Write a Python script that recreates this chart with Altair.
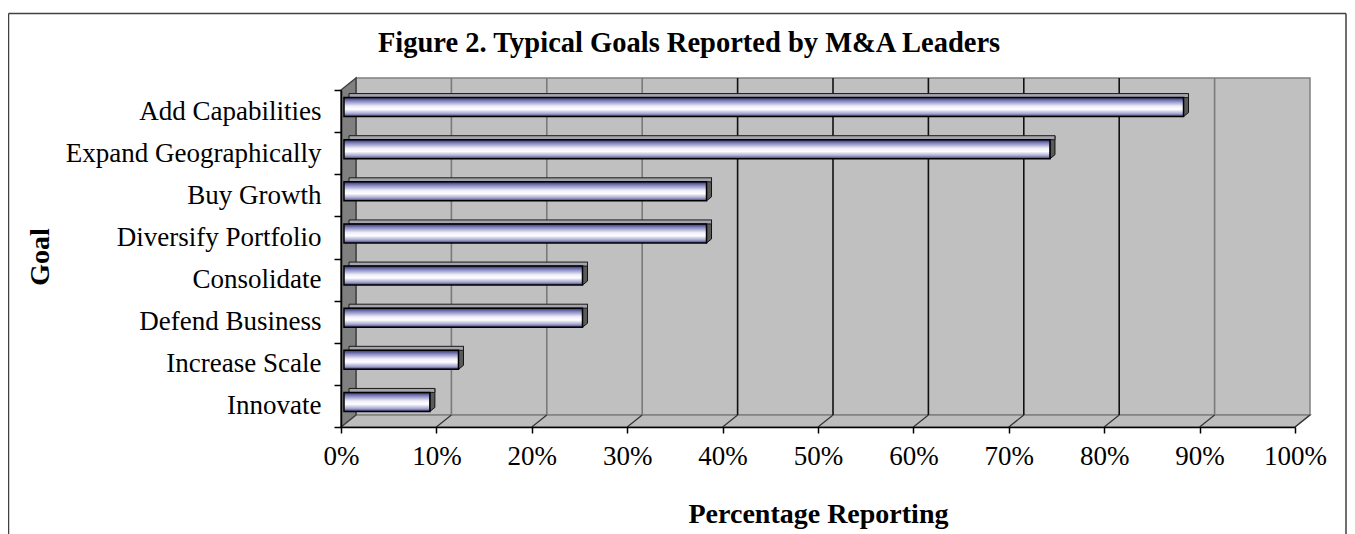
import altair as alt
import pandas as pd

# ---- data ----
goals = ["Add Capabilities", "Expand Geographically", "Buy Growth", "Diversify Portfolio",
         "Consolidate", "Defend Business", "Increase Scale", "Innovate"]
pct = [88, 74, 38, 38, 25, 25, 12, 9]
tick_values = [0, 10, 20, 30, 40, 50, 60, 70, 80, 90, 100]

TITLE = "Figure 2. Typical Goals Reported by M&A Leaders"
X_TITLE = "Percentage Reporting"
Y_TITLE = "Goal"

# ---- layout ----
W, H = 954, 337          # front plane of the plot
DX, DY = 15, 12          # 3-D depth offset
PAD = {"left": 333, "top": 82, "right": 52, "bottom": 107}
FONT = "Liberation Serif"

bars_df = pd.DataFrame({"goal": goals, "pct": pct})
ticks_df = pd.DataFrame({"v": tick_values})
one = pd.DataFrame({"t": [TITLE]})

x_scale = alt.Scale(domain=[0, 100], nice=False, zero=True)
y_scale = alt.Scale(domain=goals, paddingInner=0, paddingOuter=0)

x_axis = alt.Axis(
    values=tick_values, labelExpr="datum.value + '%'", title=X_TITLE,
    titleFont=FONT, titleFontSize=28, titleFontWeight="bold", titleColor="black",
    titleX=477, titleY=95, titleAlign="center", titleBaseline="alphabetic",
    labelFont=FONT, labelFontSize=27, labelColor="black", labelPadding=10,
    labelFlush=False, labelOverlap=False,
    tickSize=6, tickColor="black", tickWidth=1.5,
    domainColor="black", domainWidth=1.5, grid=False, zindex=1,
)
y_axis = alt.Axis(
    title=Y_TITLE, titleFont=FONT, titleFontSize=28, titleFontWeight="bold", titleColor="black",
    titleAngle=270, titleX=-301, titleY=H / 2 - 2, titleAlign="center", titleBaseline="middle",
    labelFont=FONT, labelFontSize=27, labelColor="black", labelPadding=13, labelLimit=400,
    tickBand="extent", tickSize=7, tickColor="black", tickWidth=1.5,
    domainColor="black", domainWidth=1.5, grid=False, zindex=1,
)

# ---- walls (decoration, custom symbol paths, 1 unit = 1 px at size 4) ----
back_path = f"M{DX},{-DY}L{DX},{-H-DY}L{W+DX},{-H-DY}L{W+DX},{-DY}Z"
floor_path = f"M0,0L{W},0L{W+DX},{-DY}L{DX},{-DY}Z"
left_path = f"M0,0L0,{-H}L{DX},{-H-DY}L{DX},{-DY}Z"

def wall(path, fill, stroke):
    return alt.Chart(one).mark_point(
        shape=path, size=4, filled=True, fill=fill, stroke=stroke,
        strokeWidth=1.5, opacity=1, fillOpacity=1
    ).encode(x=alt.value(0), y=alt.value(H))

back = wall(back_path, "#c0c0c0", "#808080")
floor = wall(floor_path, "#bdbdbd", "#808080")
left = wall(left_path, "#808080", "#404040")

grid = alt.Chart(ticks_df).transform_filter("datum.v > 0 && datum.v < 100").mark_point(
    shape=f"M{DX},{-DY}L{DX},{-H-DY}", size=4, filled=False, strokeWidth=1.6, opacity=1
).encode(
    x=alt.X("v:Q", scale=x_scale, axis=x_axis),
    y=alt.value(H),
    stroke=alt.condition("datum.v >= 40 && datum.v <= 80", alt.value("#111111"), alt.value("#7a7a7a")),
)

diag = alt.Chart(ticks_df).transform_filter("datum.v > 0").mark_point(
    shape=f"M0,0L{DX},{-DY}", size=4, filled=False, strokeWidth=1.2, opacity=1, stroke="#333333"
).encode(x=alt.X("v:Q", scale=x_scale, axis=x_axis), y=alt.value(H))

# ---- bars ----
grad = alt.Gradient(
    gradient="linear", x1=0, y1=0, x2=0, y2=1,
    stops=[
        alt.GradientStop(offset=0.0, color="#30306a"),
        alt.GradientStop(offset=0.18, color="#8484c0"),
        alt.GradientStop(offset=0.45, color="#eeeef8"),
        alt.GradientStop(offset=0.62, color="#ffffff"),
        alt.GradientStop(offset=0.85, color="#a4a4d0"),
        alt.GradientStop(offset=1.0, color="#3a3a78"),
    ],
)

X_ENC = alt.X("pct:Q", scale=x_scale, axis=x_axis)
Y_ENC = alt.Y("goal:N", scale=y_scale, sort=goals, axis=y_axis)

front = alt.Chart(bars_df).mark_bar(
    size=19, yOffset=-4, xOffset=3, x2Offset=3, color=grad, stroke="black", strokeWidth=1.5
).encode(x=X_ENC, y=Y_ENC)

top = alt.Chart(bars_df).mark_bar(
    size=4, yOffset=-15.5, xOffset=8, x2Offset=5.5, fill="#a4a4ac", stroke="#1a1a1a", strokeWidth=1
).encode(x=X_ENC, y=Y_ENC)

side = alt.Chart(bars_df).mark_point(
    shape="M3,-13.5L8,-17.5L8,1.5L3,5.5Z", size=4, filled=True, fill="#5a5a5a",
    stroke="#111111", strokeWidth=1, opacity=1, fillOpacity=1
).encode(x=X_ENC, y=Y_ENC)

# ---- frame and title ----
BL, BT, BR, BB = -332.5, -76.5, 1005, H + 110
border = alt.layer(
    alt.Chart(one).mark_rule(color="#404040", strokeWidth=1.5).encode(
        x=alt.value(BL), x2=alt.value(BR), y=alt.value(BT), y2=alt.value(BT)),
    alt.Chart(one).mark_rule(color="#404040", strokeWidth=1.5).encode(
        x=alt.value(BL), x2=alt.value(BL), y=alt.value(BT), y2=alt.value(BB)),
    alt.Chart(one).mark_rule(color="#404040", strokeWidth=1.5).encode(
        x=alt.value(BR), x2=alt.value(BR), y=alt.value(BT), y2=alt.value(BB)),
)

title = alt.Chart(one).mark_text(
    font=FONT, fontSize=28.5, fontWeight="bold", align="center", baseline="alphabetic", color="black"
).encode(x=alt.value(348), y=alt.value(-38), text="t:N")

chart = alt.layer(
    back, floor, left, grid, diag, side, top, front, border, title
).properties(
    width=W, height=H, padding=PAD, autosize=alt.AutoSizeParams(type="none")
).configure_view(stroke=None)

chart.save("out.html", embed_options={"renderer": "svg", "actions": False})
